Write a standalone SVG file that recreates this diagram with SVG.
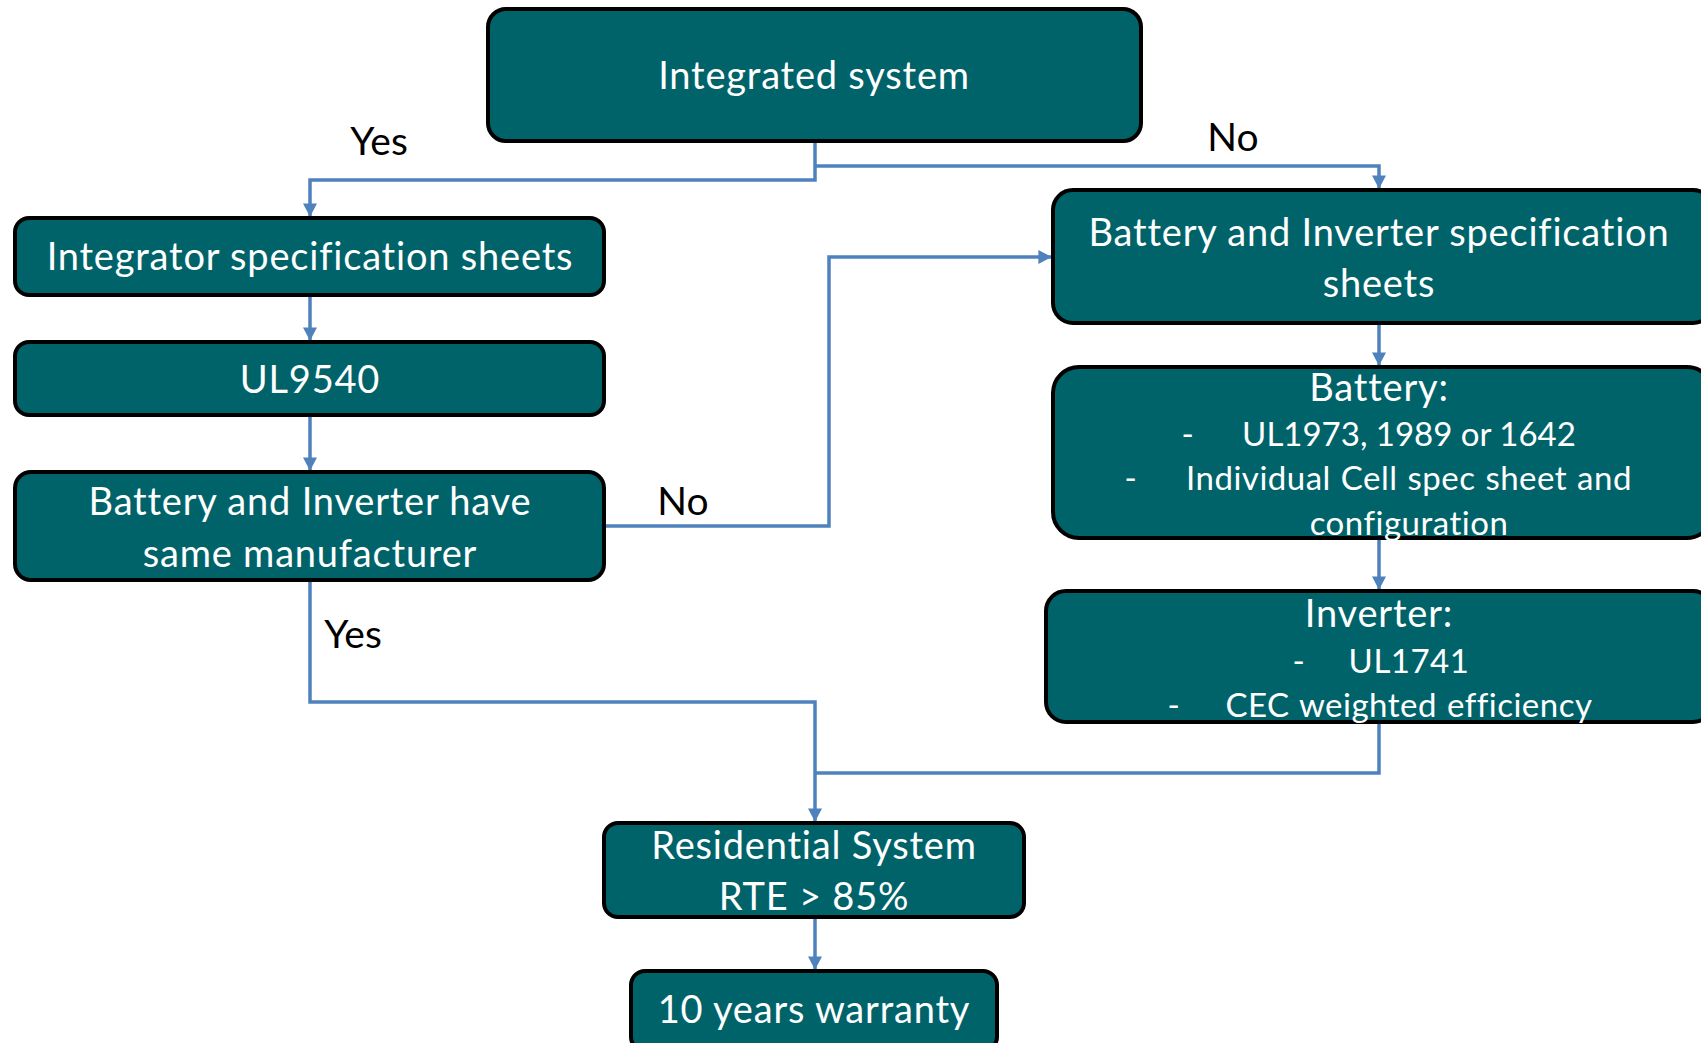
<svg xmlns="http://www.w3.org/2000/svg" width="1701" height="1043" viewBox="0 0 1701 1043">
<style>
.box{fill:#00636A;stroke:#000;stroke-width:4}
.t{font-family:Lato,"Liberation Sans",sans-serif;font-size:38px;letter-spacing:0.8px;fill:#fff;text-anchor:middle}
.s{font-size:33px;letter-spacing:0.5px;word-spacing:1px}
.n{letter-spacing:0;word-spacing:0}
.lbl{font-family:Lato,"Liberation Sans",sans-serif;font-size:39px;fill:#000;text-anchor:middle}
.c{fill:none;stroke:#4F81BD;stroke-width:3.5;marker-end:url(#a)}
.c2{fill:none;stroke:#4F81BD;stroke-width:3.5}
</style>
<defs>
<marker id="a" markerWidth="5" markerHeight="5" refX="3.6" refY="2.2" orient="auto" markerUnits="strokeWidth">
<path d="M0,0.2 L3.8,2.2 L0,4.2 Z" fill="#4F81BD"/>
</marker>
</defs>
<g id="connectors">
<path class="c" d="M815,141 V180 H310 V216"/>
<path class="c" d="M815,166 H1379 V188"/>
<path class="c" d="M310,295 V340"/>
<path class="c" d="M310,415 V470"/>
<path class="c" d="M604,526 H829 V257 H1051"/>
<path class="c" d="M310,580 V702 H815 V821"/>
<path class="c" d="M1379,323 V365"/>
<path class="c" d="M1379,538 V589"/>
<path class="c2" d="M1379,722 V773 H815"/>
<path class="c" d="M815,917 V969"/>
</g>
<g id="labels">
<text class="lbl" x="379" y="155">Yes</text>
<text class="lbl" x="1233" y="151">No</text>
<text class="lbl" x="683" y="515">No</text>
<text class="lbl" x="353" y="648">Yes</text>
</g>
<g id="n-integrated">
<rect class="box" x="488" y="9" width="653" height="132" rx="18"/>
<text class="t" x="814" y="89">Integrated system</text>
</g>
<g id="n-integrator-spec">
<rect class="box" x="15" y="218" width="589" height="77" rx="14"/>
<text class="t" x="310" y="270">Integrator specification sheets</text>
</g>
<g id="n-ul9540">
<rect class="box" x="15" y="342" width="589" height="73" rx="14"/>
<text class="t" x="310" y="393">UL9540</text>
</g>
<g id="n-same-manufacturer">
<rect class="box" x="15" y="472" width="589" height="108" rx="16"/>
<text class="t" x="310" y="515">Battery and Inverter have</text>
<text class="t" x="310" y="567">same manufacturer</text>
</g>
<g id="n-bi-spec">
<rect class="box" x="1053" y="190" width="660" height="133" rx="20"/>
<text class="t" x="1379" y="246">Battery and Inverter specification</text>
<text class="t" x="1379" y="297">sheets</text>
</g>
<g id="n-battery">
<rect class="box" x="1053" y="367" width="660" height="171" rx="26"/>
<text class="t" x="1379" y="401">Battery:</text>
<text class="t s" x="1188" y="446">-</text>
<text class="t s n" x="1409" y="446">UL1973, 1989 or 1642</text>
<text class="t s" x="1131" y="490">-</text>
<text class="t s" x="1409" y="490">Individual Cell spec sheet and</text>
<text class="t s" x="1409" y="535">configuration</text>
</g>
<g id="n-inverter">
<rect class="box" x="1046" y="591" width="667" height="131" rx="20"/>
<text class="t" x="1379" y="627">Inverter:</text>
<text class="t s" x="1299" y="673">-</text>
<text class="t s" x="1409" y="673">UL1741</text>
<text class="t s" x="1174" y="717">-</text>
<text class="t s" x="1409" y="717">CEC weighted efficiency</text>
</g>
<g id="n-residential">
<rect class="box" x="604" y="823" width="420" height="94" rx="14"/>
<text class="t" x="814" y="859">Residential System</text>
<text class="t" x="814" y="910">RTE &gt; 85%</text>
</g>
<g id="n-warranty">
<rect class="box" x="631" y="971" width="366" height="80" rx="14"/>
<text class="t" x="814" y="1023">10 years warranty</text>
</g>
</svg>
